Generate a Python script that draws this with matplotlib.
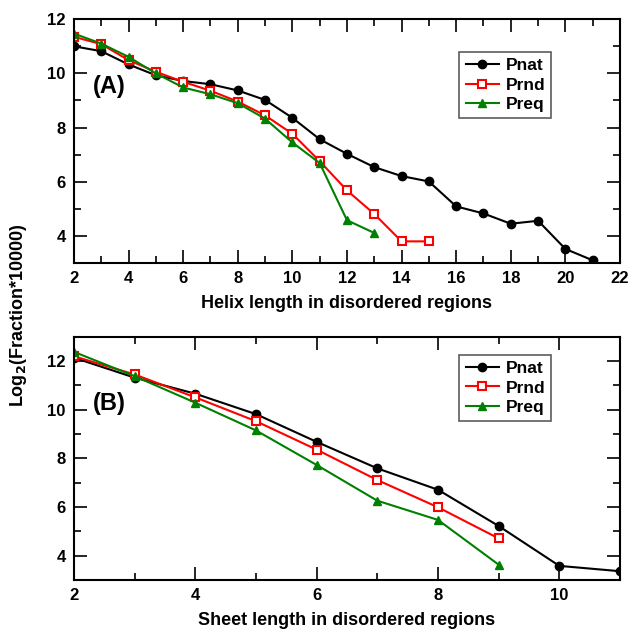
import numpy as np
import matplotlib.pyplot as plt
from matplotlib.ticker import MultipleLocator

plt.rcParams['font.family'] = ['Liberation Sans', 'DejaVu Sans']
plt.rcParams['font.weight'] = 'bold'

# Panel A: helix length
helix_x_nat = np.arange(2, 22)
helix_nat = [11.0, 10.82, 10.33, 9.93, 9.72, 9.6, 9.37, 9.02, 8.36, 7.57,
             7.03, 6.54, 6.21, 6.01, 5.09, 4.83, 4.45, 4.56, 3.52, 3.1]
helix_x_rnd = np.arange(2, 16)
helix_rnd = [11.35, 11.08, 10.49, 10.06, 9.69, 9.36, 8.96, 8.45, 7.77, 6.76,
             5.68, 4.81, 3.8, 3.8]
helix_x_req = np.arange(2, 14)
helix_req = [11.47, 11.1, 10.61, 10.0, 9.48, 9.23, 8.9, 8.33, 7.45, 6.69,
             4.58, 4.11]

# Panel B: sheet length
sheet_x_nat = np.arange(2, 12)
sheet_nat = [12.14, 11.32, 10.66, 9.82, 8.68, 7.59, 6.71, 5.22, 3.58, 3.36]
sheet_x_rnd = np.arange(2, 10)
sheet_rnd = [12.2, 11.45, 10.51, 9.53, 8.36, 7.11, 5.99, 4.71]
sheet_x_req = np.arange(2, 10)
sheet_req = [12.38, 11.38, 10.29, 9.15, 7.73, 6.26, 5.47, 3.63]


def draw_panel(ax, nat, rnd, req, label, xlabel, xlim, ylim, legend_anchor):
    ax.plot(nat[0], nat[1], '-o', color='black', lw=1.5, ms=6, label='Pnat')
    ax.plot(rnd[0], rnd[1], '-s', color='red', lw=1.5, ms=6,
            mfc='white', mec='red', mew=1.5, label='Prnd')
    ax.plot(req[0], req[1], '-^', color='#008000', lw=1.5, ms=6, label='Preq')
    ax.set_xlim(*xlim)
    ax.set_ylim(*ylim)
    ax.xaxis.set_major_locator(MultipleLocator(2))
    ax.xaxis.set_minor_locator(MultipleLocator(1))
    ax.yaxis.set_major_locator(MultipleLocator(2))
    ax.yaxis.set_minor_locator(MultipleLocator(1))
    ax.tick_params(which='both', direction='in', top=True, right=True,
                   width=1.2, labelsize=12, pad=6)
    ax.tick_params(which='major', length=9.5)
    ax.tick_params(which='minor', length=4.8)
    for s in ax.spines.values():
        s.set_linewidth(1.5)
    for t in ax.get_xticklabels() + ax.get_yticklabels():
        t.set_fontweight('bold')
    ax.set_xlabel(xlabel, fontsize=13, fontweight='bold', labelpad=6)
    ax.text(0.035, 0.725, label, transform=ax.transAxes, fontsize=17,
            fontweight='bold', va='center')
    leg = ax.legend(loc='upper right', bbox_to_anchor=legend_anchor,
                    fancybox=False, edgecolor='#333333',
                    handlelength=1.9, borderpad=0.35, labelspacing=0.25,
                    handletextpad=0.4, borderaxespad=0,
                    prop={'weight': 'bold', 'size': 12.5})
    leg.get_frame().set_linewidth(1.2)


fig = plt.figure(figsize=(6.32, 6.30), dpi=100)
ax1 = fig.add_axes([0.117, 0.5825, 0.864, 0.387])
ax2 = fig.add_axes([0.117, 0.0794, 0.864, 0.386])

draw_panel(ax1, (helix_x_nat, helix_nat), (helix_x_rnd, helix_rnd),
           (helix_x_req, helix_req), '(A)', 'Helix length in disordered regions',
           (2, 22), (3, 12), (0.874, 0.865))
draw_panel(ax2, (sheet_x_nat, sheet_nat), (sheet_x_rnd, sheet_rnd),
           (sheet_x_req, sheet_req), '(B)', 'Sheet length in disordered regions',
           (2, 11), (3, 13), (0.874, 0.926))

fig.text(0.03, 0.5, r'Log$_\mathbf{2}$(Fraction*10000)', rotation=90,
         fontsize=13, fontweight='bold', va='center', ha='center')

fig.savefig('out.png', dpi=100)
